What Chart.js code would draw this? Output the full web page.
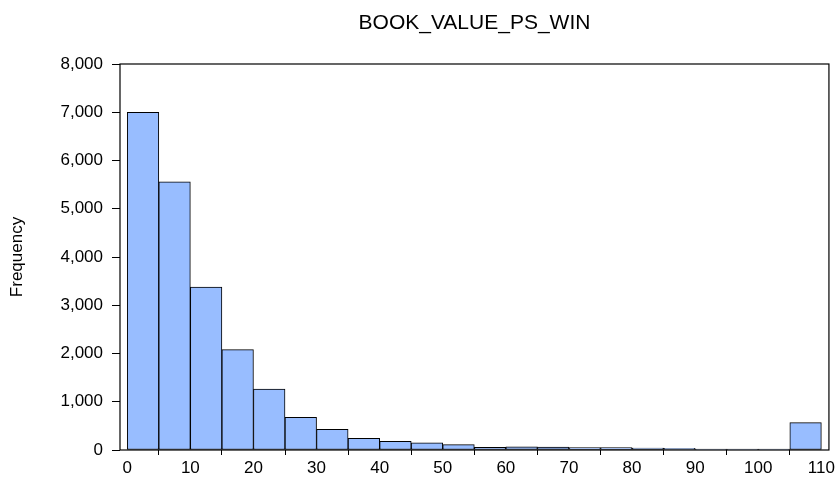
<!DOCTYPE html>
<html>
<head>
<meta charset="utf-8">
<script src="https://cdn.jsdelivr.net/npm/chart.js@4/dist/chart.umd.min.js"></script>
<style>
  html, body { margin: 0; padding: 0; background: #fff; }
  #wrap { width: 838px; height: 477px; }
</style>
</head>
<body>
<div id="wrap"><canvas id="histChart" width="838" height="477"></canvas></div>
<script>
// Histogram data (bins of width 5)
const chartTitle = 'BOOK_VALUE_PS_WIN';
const binCenters = [2.5, 7.5, 12.5, 17.5, 22.5, 27.5, 32.5, 37.5, 42.5, 47.5, 52.5,
                    57.5, 62.5, 67.5, 72.5, 77.5, 82.5, 87.5, 92.5, 97.5, 102.5, 107.5];
const frequencies = [7000, 5557, 3377, 2079, 1265, 678, 429, 242, 180, 151, 110,
                     56, 68, 62, 48, 48, 41, 35, 21, 21, 21, 566];
const xTickValues = [0, 10, 20, 30, 40, 50, 60, 70, 80, 90, 100, 110];

const points = binCenters.map((c, i) => ({ x: c, y: frequencies[i] }));

// Frame round the plot area + centred title
const framePlugin = {
    id: 'frame',
    afterDraw(chart) {
        const { ctx, chartArea: a } = chart;
        ctx.save();
        ctx.strokeStyle = '#000';
        ctx.lineWidth = 1.2;
        ctx.strokeRect(a.left, a.top, a.right - a.left, a.bottom - a.top);
        ctx.fillStyle = '#000';
        ctx.font = '21px "Liberation Sans", Arial, sans-serif';
        ctx.textAlign = 'center';
        ctx.textBaseline = 'middle';
        ctx.fillText(chartTitle, (a.left + a.right) / 2, 23);
        ctx.restore();
    }
};

new Chart(document.getElementById('histChart'), {
    type: 'bar',
    data: {
        datasets: [{
            data: points,
            backgroundColor: '#98bdff',
            borderColor: '#000',
            borderWidth: 1,
            borderSkipped: false,
            barPercentage: 1,
            categoryPercentage: 1
        }]
    },
    options: {
        responsive: false,
        animation: false,
        events: [],
        layout: { padding: { top: 64, right: 8, left: 0, bottom: 0 } },
        plugins: {
            legend: { display: false },
            title: { display: false },
            tooltip: { enabled: false }
        },
        scales: {
            x: {
                type: 'linear',
                offset: false,
                min: -1.15,
                max: 111.2,
                afterBuildTicks: scale => {
                    scale.ticks = xTickValues.map(v => ({ value: v }));
                },
                afterFit: scale => { scale.height = 27; },
                grid: { drawOnChartArea: false, drawTicks: true, tickLength: 5, color: '#000' },
                border: { display: false },
                ticks: {
                    padding: 3,
                    maxRotation: 0,
                    autoSkip: false,
                    color: '#000',
                    font: { family: '"Liberation Sans", Arial, sans-serif', size: 17 }
                }
            },
            y: {
                min: 0,
                max: 8000,
                afterFit: scale => { scale.width = 120; },
                grid: { drawOnChartArea: false, drawTicks: true, tickLength: 8, color: '#000' },
                border: { display: false },
                ticks: {
                    stepSize: 1000,
                    padding: 9,
                    color: '#000',
                    font: { family: '"Liberation Sans", Arial, sans-serif', size: 17 },
                    callback: v => v.toLocaleString('en-US')
                },
                title: {
                    display: true,
                    text: 'Frequency',
                    color: '#000',
                    padding: { top: 7, bottom: 0 },
                    font: { family: '"Liberation Sans", Arial, sans-serif', size: 17 }
                }
            }
        }
    },
    plugins: [framePlugin]
});
</script>
</body>
</html>
